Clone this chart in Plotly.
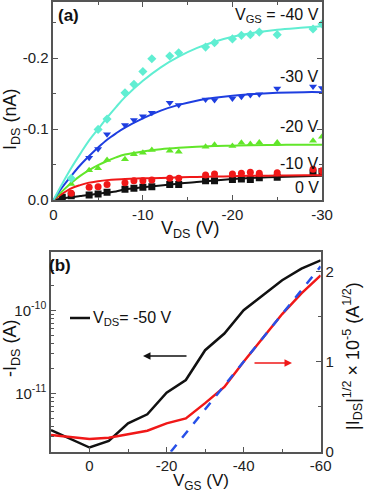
import plotly.graph_objects as go

W, H = 369, 492

# ---------------- Panel (a) data: output characteristics ----------------
vds_pts = [1, 2, 4, 5, 6, 8, 9, 10, 11, 13, 14, 17, 18, 20, 21, 22, 23, 25, 29, 30]
ids_0V = [0.004, 0.006, 0.007, 0.0085, 0.0108, 0.015, 0.0164, 0.0178, 0.0188, 0.022, 0.022,
          0.0272, 0.0272, 0.029, 0.0295, 0.029, 0.0315, 0.032, 0.038, 0.040]
ids_10V = [None, 0.0094, 0.0179, 0.0188, 0.022, 0.0244, 0.0272, 0.0272, 0.0282, 0.0305, 0.0305,
           0.0352, 0.0366, 0.0366, 0.0376, 0.039, 0.0376, 0.0385, 0.0432, 0.0413]
ids_20V = [None, 0.0225, 0.042, 0.0446, 0.0563, 0.0573, 0.0643, 0.0667, 0.0704, 0.0695, 0.068,
           0.075, 0.078, 0.076, 0.0807, 0.079, 0.0812, 0.0812, 0.0836, 0.089]
ids_30V = [None, None, 0.0596, 0.0718, 0.0925, 0.1056, 0.1127, 0.118, 0.123, 0.137, 0.134,
           0.1418, 0.1408, 0.143, 0.1455, 0.148, 0.149, 0.157, 0.160, 0.158]
ids_40V = [None, 0.0305, None, 0.0995, 0.114, 0.151, 0.163, 0.181, 0.199, 0.203, 0.2075,
           0.2155, 0.2216, 0.227, 0.232, 0.233, 0.2366, 0.233, 0.241, 0.248]

vds_fit = [0, 1, 2, 3, 4, 5, 6, 7, 8, 10, 12, 14, 16, 18, 20, 22, 25, 28, 30]
fit_0V = [0, 0.002, 0.004, 0.0055, 0.007, 0.0088, 0.0105, 0.012, 0.015, 0.0178, 0.0205, 0.023,
          0.0255, 0.0275, 0.0295, 0.031, 0.0325, 0.0335, 0.034]
fit_10V = [0, 0.009, 0.0165, 0.021, 0.0245, 0.0265, 0.028, 0.029, 0.0295, 0.0305, 0.031, 0.032,
           0.0325, 0.033, 0.0335, 0.034, 0.0345, 0.035, 0.035]
fit_20V = [0, 0.0125, 0.024, 0.034, 0.042, 0.049, 0.055, 0.06, 0.064, 0.0685, 0.0715, 0.0735,
           0.075, 0.076, 0.0765, 0.077, 0.0775, 0.078, 0.078]
fit_30V = [0, 0.018, 0.034, 0.049, 0.062, 0.074, 0.085, 0.094, 0.102, 0.115, 0.126, 0.134,
           0.140, 0.144, 0.147, 0.149, 0.151, 0.152, 0.152]
fit_40V = [0, 0.023, 0.045, 0.065, 0.084, 0.100, 0.116, 0.131, 0.145, 0.168, 0.187, 0.202,
           0.214, 0.223, 0.230, 0.235, 0.240, 0.243, 0.245]

# ---------------- Panel (b) data: transfer characteristics ----------------
vgs = [10, 0, -5, -10, -15, -20, -25, -30, -35, -40, -45, -50, -55, -60]
ids_abs = [3.63e-12, 2.24e-12, 2.69e-12, 4.37e-12, 5.62e-12, 1.02e-11, 1.45e-11, 3.31e-11,
           5.25e-11, 1.0e-10, 1.51e-10, 2.29e-10, 3.16e-10, 3.98e-10]
vgs_sqrt = [10, 0, -5, -15, -20, -25, -30, -35, -40, -45, -50, -55, -60]
sqrt_ids = [0.185, 0.14, 0.156, 0.233, 0.315, 0.37, 0.54, 0.72, 1.0, 1.27, 1.53, 1.76, 1.96]
vgs_fit = [-21.1, -60]
sqrt_fit = [0.0, 2.06]

C_BLACK = "#111111"
C_RED = "#F01818"
C_GREEN = "#62E62A"
C_BLUE = "#1E3EE0"
C_CYAN = "#60EED2"
FONT = "Arial, Liberation Sans, sans-serif"

fig = go.Figure()

neg = lambda arr: [None if v is None else -v for v in arr]

series = [
    (ids_0V, fit_0V, C_BLACK, "square"),
    (ids_10V, fit_10V, C_RED, "circle"),
    (ids_20V, fit_20V, C_GREEN, "triangle-up"),
    (ids_30V, fit_30V, C_BLUE, "triangle-down"),
    (ids_40V, fit_40V, C_CYAN, "diamond"),
]
for pts, fit, col, sym in series:
    fig.add_trace(go.Scatter(x=[-v for v in vds_fit], y=neg(fit), mode="lines",
                             line=dict(color=col, width=2, shape="spline"),
                             xaxis="x", yaxis="y", hoverinfo="skip"))
    fig.add_trace(go.Scatter(x=[-v for v in vds_pts], y=neg(pts), mode="markers",
                             marker=dict(color=col, symbol=sym, size=7, line=dict(width=0)),
                             xaxis="x", yaxis="y"))

# Panel b traces
fig.add_trace(go.Scatter(x=vgs, y=ids_abs, mode="lines", line=dict(color=C_BLACK, width=2.5),
                         xaxis="x2", yaxis="y2"))
fig.add_trace(go.Scatter(x=vgs_sqrt, y=sqrt_ids, mode="lines", line=dict(color=C_RED, width=2.5),
                         xaxis="x2", yaxis="y3"))
fig.add_trace(go.Scatter(x=vgs_fit, y=sqrt_fit, mode="lines",
                         line=dict(color="#2750E8", width=2.5, dash="dash"),
                         xaxis="x2", yaxis="y3"))

def px(x):
    return x / W

def py(y):
    return 1 - y / H

AX = "#555555"
tickfont = dict(family=FONT, size=15, color="#222222")
common = dict(showline=True, linecolor=AX, linewidth=1.5, ticks="inside", ticklen=5,
              tickcolor=AX, tickwidth=1.2, showgrid=False, zeroline=False, tickfont=tickfont,
              automargin=False)

fig.update_layout(
    width=W, height=H, margin=dict(l=0, r=0, t=0, b=0, pad=0),
    paper_bgcolor="white", plot_bgcolor="white", showlegend=False,
    font=dict(family=FONT, color="#222222"),
    xaxis=dict(domain=[0.1445, 0.8726], range=[0, -30], anchor="y",
               tickvals=[0, -10, -20, -30], ticktext=["0", "-10", "-20", "-30"],
               minor=dict(tickvals=[-5, -15, -25], ticks="inside", ticklen=3, tickcolor=AX),
               mirror="allticks", **common),
    yaxis=dict(domain=[0.5935, 0.9959], range=[0, -0.279], anchor="x",
               tickvals=[0, -0.1, -0.2], ticktext=["0.0", "-0.1", "-0.2"],
               minor=dict(tickvals=[-0.05, -0.15, -0.25], ticks="inside", ticklen=3, tickcolor=AX),
               mirror="allticks", **common),
    xaxis2=dict(domain=[0.1382, 0.8691], range=[10, -60], anchor="y2",
                tickvals=[0, -20, -40, -60], ticktext=["0", "-20", "-40", "-60"],
                minor=dict(tickvals=[-10, -30, -50], ticks="inside", ticklen=3, tickcolor=AX),
                mirror=True, **common),
    yaxis2=dict(domain=[0.0819, 0.4878], type="log", range=[-11.7, -9.3], anchor="x2",
                tickvals=[1e-11, 1e-10], ticktext=["10<sup>-11</sup>", "10<sup>-10</sup>"],
                minor=dict(tickvals=[k * 10.0 ** e for e in (-12, -11, -10) for k in range(2, 10)],
                           ticks="inside", ticklen=3, tickcolor=AX),
                **common),
    yaxis3=dict(overlaying="y2", side="right", range=[0, 2.22], anchor="x2",
                tickvals=[0, 1, 2], ticktext=["0", "1", "2"],
                minor=dict(tickvals=[0.5, 1.5], ticks="inside", ticklen=3, tickcolor=AX),
                **common),
)

ann = []
def text(x, y, t, size=15, xanchor="center", angle=0, bold=False):
    ann.append(dict(x=px(x), y=py(y), xref="paper", yref="paper", text=("<b>%s</b>" % t) if bold else t,
                    showarrow=False, xanchor=xanchor, yanchor="middle", textangle=angle,
                    font=dict(family=FONT, size=size, color="#111111")))

# Panel (a) texts
text(68, 15, "(a)", size=17, bold=True)
text(321, 15, "V<sub>GS</sub> = -40 V", size=16, xanchor="right")
text(321, 76, "-30 V", size=16, xanchor="right")
text(321, 127, "-20 V", size=16, xanchor="right")
text(321, 163, "-10 V", size=16, xanchor="right")
text(321, 187, "0 V", size=16, xanchor="right")
text(11, 119, "I<sub>DS</sub> (nA)", size=18, angle=-90)
text(190, 229, "V<sub>DS</sub> (V)", size=18)

# Panel (b) texts
text(60, 265, "(b)", size=17, bold=True)
text(91, 318, "V<sub>DS</sub>= -50 V", size=16, xanchor="left")
text(11, 348, "-I<sub>DS</sub> (A)", size=18, angle=-90)
text(201, 482, "V<sub>GS</sub> (V)", size=17)
text(352, 356, "|I<sub>DS</sub>|<sup>1/2</sup> × 10<sup>-5</sup> (A<sup>1/2</sup>)", size=18, angle=-90)

# arrows (ax/ay are pixel offsets of the tail from the head)
ann.append(dict(x=px(143), y=py(356), ax=45, ay=0, xref="paper", yref="paper",
                text="", showarrow=True, arrowhead=2,
                arrowsize=1, arrowwidth=1.5, arrowcolor="#111111"))
ann.append(dict(x=px(292), y=py(363), ax=-39, ay=0, xref="paper", yref="paper",
                text="", showarrow=True, arrowhead=2,
                arrowsize=1, arrowwidth=1.5, arrowcolor=C_RED))
fig.update_layout(annotations=ann)

fig.add_shape(type="line", xref="paper", yref="paper", x0=px(70), x1=px(90), y0=py(318), y1=py(318),
              line=dict(color=C_BLACK, width=2.5))

fig.write_html("out.html", config={"displayModeBar": False},
               post_script="document.body.style.margin='0';document.body.style.overflow='hidden';")
